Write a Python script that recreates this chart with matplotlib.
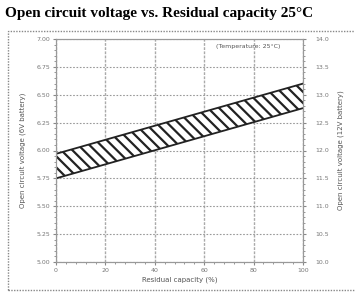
import matplotlib
matplotlib.use("Agg")
import matplotlib.pyplot as plt
from matplotlib.patches import Rectangle
from matplotlib.ticker import MultipleLocator

capacity = [0, 100]
upper_6v = [5.97, 6.60]
lower_6v = [5.75, 6.38]
x_ticks = [0, 20, 40, 60, 80, 100]
left_ticks = [5.00, 5.25, 5.50, 5.75, 6.00, 6.25, 6.50, 6.75, 7.00]
left_labels = ["5.00", "5.25", "5.50", "5.75", "6.00", "6.25", "6.50", "6.75", "7.00"]
right_labels = ["10.0", "10.5", "11.0", "11.5", "12.0", "12.5", "13.0", "13.5", "14.0"]

fig = plt.figure(figsize=(3.55, 2.95), dpi=100)
ax = fig.add_axes([56/355, 1-262/295, 247/355, 223/295])

plt.rcParams['hatch.linewidth'] = 1.6
ax.fill_between(capacity, lower_6v, upper_6v, facecolor='white', edgecolor='#222222',
                hatch='\\\\\\', linewidth=0)
ax.plot(capacity, upper_6v, color='#222222', lw=1.3)
ax.plot(capacity, lower_6v, color='#222222', lw=1.3)

ax.set_xlim(0, 100)
ax.set_ylim(5.0, 7.0)
ax.set_xticks(x_ticks)
ax.set_xticklabels([str(v) for v in x_ticks])
ax.set_yticks(left_ticks)
ax.set_yticklabels(left_labels)
ax.xaxis.set_minor_locator(MultipleLocator(4))
ax.yaxis.set_minor_locator(MultipleLocator(0.05))
ax.grid(True, which='major', axis='y', color='#999999', linestyle=(0, (1.5, 1.5)), lw=0.8)
ax.grid(True, which='major', axis='x', color='#aaaaaa', linestyle=(0, (2, 1)), lw=1.0)
ax.set_axisbelow(True)

tick_color = '#777777'
ax.tick_params(axis='both', which='major', labelsize=4.5, length=2, color='#888888',
               labelcolor=tick_color, pad=2)
ax.tick_params(axis='both', which='minor', length=1.2, color='#888888')
for s in ax.spines.values():
    s.set_color('#999999')
    s.set_linewidth(0.8)

ax2 = ax.twinx()
ax2.set_ylim(10.0, 14.0)
ax2.set_yticks([10.0 + 0.5*i for i in range(9)])
ax2.set_yticklabels(right_labels)
ax2.yaxis.set_minor_locator(MultipleLocator(0.1))
ax2.tick_params(axis='y', which='major', labelsize=4.5, length=2, color='#888888',
                labelcolor=tick_color, pad=7)
ax2.tick_params(axis='y', which='minor', length=1.2, color='#888888')
for s in ax2.spines.values():
    s.set_color('#999999')
    s.set_linewidth(0.8)

ax.set_xlabel("Residual capacity (%)", fontsize=5, color='#555555', labelpad=3)
ax.set_ylabel("Open circuit voltage (6V battery)", fontsize=5, color='#555555', labelpad=8)
ax2.set_ylabel("Open circuit voltage (12V battery)", fontsize=5, color='#555555', labelpad=6)

ax.text(0.78, 0.965, "(Temperature: 25\u00b0C)", transform=ax.transAxes, fontsize=4.5,
        color='#555555', ha='center', va='center')

fig.text(5/355, 1-14/295, "Open circuit voltage vs. Residual capacity 25\u00b0C",
         fontsize=11, fontweight='bold', family='Liberation Serif', ha='left', va='center')

fig.patches.append(Rectangle((8/355, 1-290/295), 1.0, 259/295, transform=fig.transFigure,
                             fill=False, edgecolor='#888888', linestyle=(0, (1, 1)), lw=1.0))

fig.savefig("out.png", dpi=100)
